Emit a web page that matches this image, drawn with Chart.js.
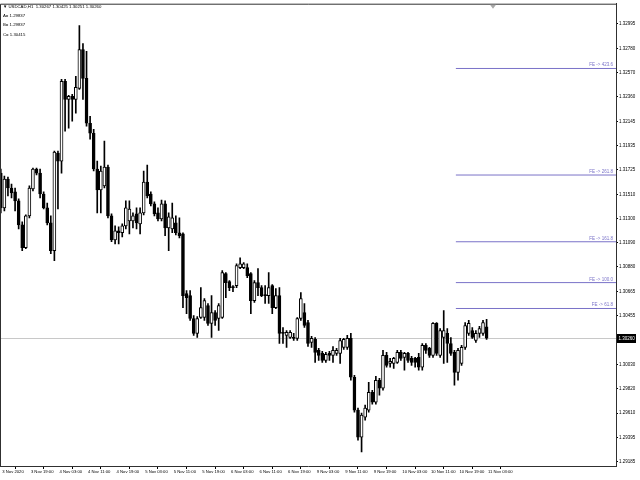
<!DOCTYPE html>
<html>
<head>
<meta charset="utf-8">
<script src="https://cdn.jsdelivr.net/npm/chart.js@4.4.1/dist/chart.umd.min.js"></script>
<style>
html,body{margin:0;padding:0;background:#ffffff;}
#wrap{width:640px;height:480px;position:relative;}
</style>
</head>
<body>
<div id="wrap"><canvas id="c" width="640" height="480"></canvas></div>
<script>
// ---------- DATA ----------
const symbolLabel = 'USDCAD,H1';
const headerValues = ['1.30267', '1.30425', '1.30251', '1.30260'];
const pointLabels = ['A= 1.29837', 'B= 1.29837', 'C= 1.30415'];

const timeLabels = ['3 Nov 2020', '3 Nov 19:00', '4 Nov 03:00', '4 Nov 11:00', '4 Nov 19:00',
  '5 Nov 03:00', '5 Nov 11:00', '5 Nov 19:00', '6 Nov 03:00', '6 Nov 11:00', '6 Nov 19:00',
  '9 Nov 03:00', '9 Nov 11:00', '9 Nov 19:00', '10 Nov 03:00', '10 Nov 11:00', '10 Nov 19:00', '11 Nov 03:00'];
const timeLabelBars = [0, 8, 16, 24, 32, 40, 48, 56, 64, 72, 80, 88, 96, 104, 112, 120, 128, 136];

const priceTicks = [1.32995, 1.32780, 1.32570, 1.32360, 1.32145, 1.31935, 1.31725, 1.31510, 1.31300,
  1.31090, 1.30880, 1.30665, 1.30455, 1.30030, 1.29820, 1.29610, 1.29395, 1.29185];
const currentPrice = 1.30260;

const open = [1.31696,1.31393,1.31644,1.31566,1.31532,1.31454,1.31246,1.31047,1.31324,1.31558,
1.31731,1.31696,1.31514,1.31393,1.31263,1.31021,1.31869,1.31800,1.32493,1.32337,
1.32363,1.32337,1.32432,1.32770,1.32519,1.32129,1.32042,1.31731,1.31549,1.31584,
1.31748,1.31324,1.31116,1.31194,1.31177,1.31237,1.31280,1.31280,1.31341,1.31254,
1.31350,1.31618,1.31514,1.31428,1.31350,1.31298,1.31428,1.31220,1.31211,1.31263,
1.31177,1.31168,1.30648,1.30631,1.30432,1.30302,1.30441,1.30441,1.30545,1.30389,
1.30484,1.30432,1.30441,1.30822,1.30752,1.30709,1.30718,1.30874,1.30874,1.30874,
1.30822,1.30588,1.30744,1.30700,1.30640,1.30631,1.30718,1.30527,1.30631,1.30311,
1.30285,1.30267,1.30267,1.30259,1.30432,1.30484,1.30397,1.30224,1.30250,1.30155,
1.30129,1.30068,1.30129,1.30111,1.30129,1.30129,1.30181,1.30181,1.30259,1.29921,
1.29635,1.29401,1.29575,1.29635,1.29791,1.29705,1.29895,1.29826,1.30111,1.30042,
1.30042,1.30051,1.30137,1.30094,1.30129,1.30085,1.30085,1.30094,1.30008,1.30198,
1.30172,1.30111,1.30389,1.30111,1.30267,1.30302,1.30215,1.30137,1.29964,1.30042,
1.30181,1.30302,1.30328,1.30241,1.30302,1.30302,1.30360];

const high = [1.31731,1.31670,1.31661,1.31601,1.31566,1.31471,1.31272,1.31333,1.31584,1.31740,
1.31740,1.31731,1.31532,1.31436,1.31324,1.31887,1.31887,1.32510,1.32510,1.32372,
1.32380,1.32536,1.32978,1.32822,1.32753,1.32190,1.32077,1.31800,1.31757,1.31973,
1.31765,1.31341,1.31237,1.31228,1.31254,1.31454,1.31454,1.31350,1.31393,1.31393,
1.31714,1.31765,1.31532,1.31445,1.31393,1.31462,1.31454,1.31350,1.31436,1.31324,
1.31307,1.31177,1.30674,1.30674,1.30458,1.30449,1.30700,1.30605,1.30562,1.30631,
1.30501,1.30562,1.30848,1.30830,1.30761,1.30718,1.30908,1.30960,1.30917,1.30908,
1.30830,1.30761,1.30865,1.30718,1.30718,1.30830,1.30726,1.30692,1.30700,1.30354,
1.30328,1.30328,1.30302,1.30441,1.30657,1.30562,1.30415,1.30276,1.30267,1.30172,
1.30146,1.30137,1.30146,1.30189,1.30172,1.30259,1.30259,1.30285,1.30302,1.29938,
1.29653,1.29609,1.29679,1.29878,1.29808,1.29930,1.29912,1.30155,1.30137,1.30085,
1.30094,1.30155,1.30155,1.30137,1.30137,1.30103,1.30094,1.30129,1.30215,1.30215,
1.30181,1.30397,1.30397,1.30345,1.30501,1.30345,1.30267,1.30155,1.30172,1.30198,
1.30397,1.30415,1.30354,1.30328,1.30363,1.30415,1.30425];

const low = [1.31350,1.31367,1.31497,1.31480,1.31367,1.31211,1.31021,1.31038,1.31307,1.31540,
1.31679,1.31480,1.31384,1.31246,1.30995,1.30934,1.31384,1.31696,1.32060,1.32086,
1.32146,1.32216,1.32424,1.32337,1.32103,1.31991,1.31714,1.31350,1.31350,1.31566,
1.31307,1.31099,1.31081,1.31081,1.31142,1.31211,1.31168,1.31220,1.31211,1.31168,
1.31333,1.31480,1.31410,1.31324,1.31280,1.31280,1.31151,1.31021,1.31177,1.31159,
1.31133,1.30527,1.30475,1.30415,1.30285,1.30267,1.30432,1.30415,1.30371,1.30267,
1.30371,1.30328,1.30432,1.30614,1.30674,1.30666,1.30700,1.30865,1.30865,1.30787,
1.30475,1.30571,1.30631,1.30622,1.30562,1.30562,1.30475,1.30518,1.30215,1.30215,
1.30181,1.30259,1.30241,1.30241,1.30415,1.30354,1.30189,1.30181,1.30051,1.30068,
1.30051,1.30051,1.30068,1.30051,1.30111,1.30042,1.30163,1.30163,1.29895,1.29618,
1.29375,1.29272,1.29549,1.29618,1.29687,1.29687,1.29765,1.29808,1.30008,1.30008,
1.29999,1.30042,1.30068,1.29982,1.30051,1.30025,1.30008,1.29982,1.29982,1.30129,
1.30094,1.30094,1.30111,1.30094,1.30042,1.30051,1.30111,1.29852,1.29895,1.30025,
1.30163,1.30285,1.30259,1.30224,1.30267,1.30285,1.30251];

const close = [1.31393,1.31644,1.31566,1.31523,1.31454,1.31246,1.31047,1.31324,1.31566,1.31731,
1.31696,1.31514,1.31393,1.31263,1.31021,1.31878,1.31800,1.32493,1.32337,1.32363,
1.32337,1.32441,1.32770,1.32519,1.32129,1.32042,1.31731,1.31549,1.31714,1.31748,
1.31324,1.31116,1.31194,1.31177,1.31237,1.31393,1.31384,1.31324,1.31263,1.31350,
1.31618,1.31497,1.31428,1.31341,1.31298,1.31428,1.31220,1.31315,1.31307,1.31177,
1.31151,1.30631,1.30614,1.30432,1.30302,1.30432,1.30527,1.30588,1.30389,1.30484,
1.30415,1.30545,1.30830,1.30744,1.30700,1.30700,1.30891,1.30908,1.30908,1.30804,
1.30588,1.30744,1.30700,1.30631,1.30631,1.30700,1.30527,1.30631,1.30302,1.30302,
1.30311,1.30311,1.30259,1.30432,1.30605,1.30371,1.30215,1.30259,1.30137,1.30111,
1.30068,1.30120,1.30111,1.30155,1.30155,1.30241,1.30250,1.30259,1.29921,1.29635,
1.29401,1.29592,1.29653,1.29791,1.29705,1.29895,1.29826,1.30111,1.30025,1.30060,
1.30085,1.30137,1.30085,1.30129,1.30068,1.30051,1.30051,1.30008,1.30198,1.30155,
1.30111,1.30389,1.30129,1.30328,1.30328,1.30215,1.30129,1.29964,1.30155,1.30181,
1.30371,1.30389,1.30267,1.30302,1.30345,1.30397,1.30260];

const feRatios = ['423.6', '261.8', '161.8', '100.0', '61.8'];
const feLevels = [1.32605, 1.31679, 1.31099, 1.30744, 1.30519];
const feStartBar = 127.4;

// ---------- STYLE / LAYOUT ----------
const X_MIN = -0.224, X_MAX = 172.23;
const Y_MIN = 1.29150, Y_MAX = 1.33168;
const FE_COLOR = '#7a72c8';
const FONT = '"Liberation Sans", "DejaVu Sans", sans-serif';
const X_FONT = 4.2;
const Y_FONT = 4.5;

const bodies = open.map((o, i) => ({ x: i, y: [o, close[i]] }));
const wicks = open.map((o, i) => ({ x: i, y: [low[i], high[i]] }));
const bodyFill = open.map((o, i) => (close[i] >= o ? '#ffffff' : '#000000'));

const feSets = feLevels.map(lv => ({
  type: 'line',
  data: [{ x: feStartBar, y: lv }, { x: X_MAX, y: lv }],
  borderColor: FE_COLOR, borderWidth: 1, pointRadius: 0, fill: false, tension: 0
}));

const overlay = {
  id: 'overlay',
  beforeDatasetsDraw(chart) {
    const { ctx, chartArea: a, scales: { y } } = chart;
    const py = Math.round(y.getPixelForValue(currentPrice)) + 0.5;
    ctx.save();
    ctx.strokeStyle = '#c8c8c8';
    ctx.lineWidth = 1;
    ctx.beginPath(); ctx.moveTo(a.left, py); ctx.lineTo(a.right, py); ctx.stroke();
    ctx.restore();
  },
  afterDraw(chart) {
    const { ctx, chartArea: a, scales: { y } } = chart;
    ctx.save();
    // left and top frame
    ctx.strokeStyle = '#303030';
    ctx.lineWidth = 1;
    ctx.beginPath();
    ctx.moveTo(a.left + 0.5, a.bottom);
    ctx.lineTo(a.left + 0.5, a.top + 0.5);
    ctx.lineTo(a.right, a.top + 0.5);
    ctx.stroke();
    // FE labels
    ctx.font = Y_FONT + 'px ' + FONT;
    ctx.fillStyle = FE_COLOR;
    ctx.textAlign = 'right';
    ctx.textBaseline = 'alphabetic';
    feLevels.forEach((lv, k) => {
      const py = y.getPixelForValue(lv);
      ctx.fillText('FE -> ' + feRatios[k], a.right - 3, py - 2);
    });
    // current price box
    const pp = Math.round(y.getPixelForValue(currentPrice));
    ctx.fillStyle = '#000000';
    ctx.fillRect(a.right + 1, pp - 4, 19, 9);
    ctx.fillStyle = '#ffffff';
    ctx.textAlign = 'left';
    ctx.textBaseline = 'middle';
    ctx.fillText(currentPrice.toFixed(5), a.right + 2.5, pp + 0.5);
    // header text
    ctx.fillStyle = '#000000';
    ctx.font = '4.3px ' + FONT;
    ctx.textBaseline = 'middle';
    ctx.fillText('\u25BC ' + symbolLabel + '  ' + headerValues.join(' '), a.left + 3, 7);
    pointLabels.forEach((t, k) => ctx.fillText(t, a.left + 3, 16 + k * 9.3));
    // chart shift marker
    ctx.fillStyle = '#a8a8a8';
    ctx.beginPath();
    ctx.moveTo(a.left + 490, a.top + 1);
    ctx.lineTo(a.left + 496, a.top + 1);
    ctx.lineTo(a.left + 493, a.top + 5);
    ctx.closePath();
    ctx.fill();
    ctx.restore();
  }
};

new Chart(document.getElementById('c'), {
  data: {
    datasets: [
      { type: 'bar', data: bodies, backgroundColor: bodyFill, borderColor: '#000000', borderWidth: 1,
        borderSkipped: false, barThickness: 3, grouped: false, minBarLength: 1 },
      { type: 'bar', data: wicks, backgroundColor: '#000000', borderWidth: 0,
        barThickness: 1, grouped: false },
      ...feSets
    ]
  },
  options: {
    responsive: false,
    animation: false,
    devicePixelRatio: 1,
    layout: { padding: { top: 2, left: 0, right: 0, bottom: 0 } },
    plugins: { legend: { display: false }, tooltip: { enabled: false } },
    scales: {
      x: {
        type: 'linear', min: X_MIN, max: X_MAX, offset: false, position: 'bottom',
        afterBuildTicks: s => { s.ticks = timeLabelBars.map(v => ({ value: v })); },
        afterFit: s => { s.height = 14; },
        grid: { display: true, drawOnChartArea: false, drawTicks: true, tickLength: 3, color: '#000000', tickColor: '#000000' },
        border: { display: true, color: '#303030', width: 1 },
        ticks: {
          autoSkip: false, maxRotation: 0, minRotation: 0, align: 'start', labelOffset: 1.5, padding: 0.5,
          color: '#000000', font: { family: FONT, size: X_FONT },
          callback: (v, idx) => timeLabels[idx]
        }
      },
      y: {
        type: 'linear', position: 'right', min: Y_MIN, max: Y_MAX,
        afterBuildTicks: s => { s.ticks = priceTicks.map(v => ({ value: v })); },
        afterFit: s => { s.width = 24; },
        grid: { display: true, drawOnChartArea: false, drawTicks: true, tickLength: 2, color: '#000000', tickColor: '#000000' },
        border: { display: true, color: '#303030', width: 1 },
        ticks: {
          autoSkip: false, padding: 1, color: '#000000', font: { family: FONT, size: Y_FONT },
          callback: v => Number(v).toFixed(5)
        }
      }
    }
  },
  plugins: [overlay]
});
</script>
</body>
</html>
